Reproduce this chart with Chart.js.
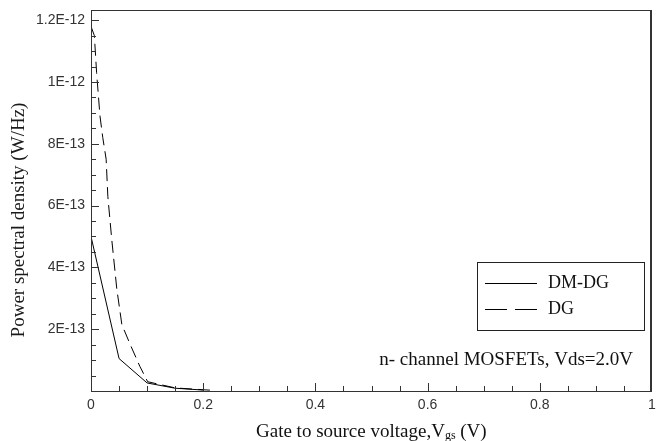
<!DOCTYPE html>
<html>
<head>
<meta charset="utf-8">
<script src="https://cdn.jsdelivr.net/npm/chart.js@4.4.1/dist/chart.umd.min.js"></script>
<style>
  html, body { margin: 0; padding: 0; background: #fff; }
  #wrap { width: 658px; height: 441px; }
</style>
</head>
<body>
<div id="wrap"><canvas id="myChart" width="658" height="441"></canvas></div>
<script>
// gate voltage (V) and noise power spectral density (W/Hz)
var vgsDmdg = [0, 0.05, 0.1, 0.15, 0.2];
var psdDmdg = [5.0e-13, 1.05e-13, 2.6e-14, 9e-15, 3e-15];

var vgsDg = [0, 0.006, 0.01, 0.016, 0.021, 0.027, 0.03, 0.037, 0.046, 0.055, 0.07, 0.087, 0.101, 0.15, 0.2, 0.22];
var psdDg = [1.18e-12, 1.15e-12, 1.03e-12, 0.89e-12, 0.82e-12, 0.75e-12, 0.63e-12, 0.49e-12, 0.33e-12, 0.215e-12, 0.15e-12, 0.08e-12, 0.03e-12, 0.01e-12, 0.004e-12, 0.002e-12];

var seriesNames = ['DM-DG', 'DG'];
var xTicks = [0, 0.2, 0.4, 0.6, 0.8, 1];
var yTicks = [2e-13, 4e-13, 6e-13, 8e-13, 1e-12, 1.2e-12];
var note = 'n- channel MOSFETs, Vds=2.0V';

function pts(xs, ys) {
  var out = [];
  for (var i = 0; i < xs.length; i++) out.push({x: xs[i], y: ys[i]});
  return out;
}

var serif = '"Liberation Serif", "Times New Roman", serif';

// frame, inward ticks, legend box, titles
var decor = {
  id: 'decor',
  afterDraw: function (chart) {
    var c = chart.ctx, a = chart.chartArea;
    var xs = chart.scales.x, ys = chart.scales.y;
    var L = Math.round(a.left), R = Math.round(a.right), T = Math.round(a.top), B = Math.round(a.bottom);
    c.save();
    c.setLineDash([]);
    c.fillStyle = '#333';
    c.fillRect(L, T, R - L, 1);          // top
    c.fillRect(L, B, R - L, 1);          // bottom
    c.fillRect(L, T, 1, B - T + 1);      // left
    c.fillRect(R - 2, T, 2, B - T + 1);  // right

    // x ticks every 0.05, major every 0.2
    for (var i = 0; i <= 20; i++) {
      var px = Math.round(xs.getPixelForValue(i * 0.05));
      var len = (i % 4 === 0) ? 8 : 5;
      c.fillRect(Math.min(px, R - 2), B - len, 1, len);
    }
    // y ticks every 0.5E-13, major every 2E-13
    for (var j = 0; j <= 24; j++) {
      var py = Math.round(ys.getPixelForValue(j * 0.5e-13));
      if (py < T) break;
      var l2 = (j % 4 === 0) ? 8 : 5;
      c.fillRect(L, py, l2, 1);
    }

    // legend
    c.fillStyle = '#222';
    c.fillRect(477, 262, 168, 1);
    c.fillRect(477, 330, 168, 1);
    c.fillRect(477, 262, 1, 69);
    c.fillRect(644, 262, 1, 69);
    c.font = '18px ' + serif;
    c.fillStyle = '#111';
    c.textBaseline = 'middle';
    var rows = [283, 309];
    chart.data.datasets.forEach(function (ds, k) {
      c.beginPath();
      c.lineWidth = 1;
      c.setLineDash(k === 0 ? [] : [22, 8]);
      c.strokeStyle = '#000';
      c.moveTo(485, rows[k] + 0.5); c.lineTo(537, rows[k] + 0.5);
      c.stroke();
      c.setLineDash([]);
      c.fillText(ds.label, 548, rows[k]);
    });

    // note
    c.font = '19px ' + serif;
    c.textAlign = 'right';
    c.textBaseline = 'alphabetic';
    c.fillText(note, 633, 365);

    // x title with subscript
    c.textAlign = 'left';
    var t1 = 'Gate to source voltage,V', t2 = 'gs', t3 = ' (V)';
    var x0 = 256, base = 437;
    c.font = '19px ' + serif;
    c.fillText(t1, x0, base);
    var w1 = c.measureText(t1).width;
    c.font = '12px ' + serif;
    c.fillText(t2, x0 + w1, base + 2);
    var w2 = c.measureText(t2).width;
    c.font = '19px ' + serif;
    c.fillText(t3, x0 + w1 + w2, base);

    // y title
    c.translate(19, 220);
    c.rotate(-Math.PI / 2);
    c.textAlign = 'center';
    c.textBaseline = 'middle';
    c.fillStyle = '#1a1a1a';
    c.fillText('Power spectral density (W/Hz)', 0, 0);
    c.restore();
  }
};

function yLabel(v) {
  for (var i = 0; i < yTicks.length; i++) {
    if (Math.abs(v - yTicks[i]) < 1e-16) {
      return Number(yTicks[i].toPrecision(3)).toExponential().toUpperCase();
    }
  }
  return '';
}

function noPad(s) {
  s.paddingLeft = 0; s.paddingRight = 0; s.paddingTop = 0; s.paddingBottom = 0;
}

var ctx = document.getElementById('myChart').getContext('2d');
var myChart = new Chart(ctx, {
  type: 'line',
  data: {
    datasets: [{
      label: seriesNames[0],
      data: pts(vgsDmdg, psdDmdg),
      borderColor: '#000',
      borderWidth: 1,
      pointRadius: 0,
      tension: 0
    }, {
      label: seriesNames[1],
      data: pts(vgsDg, psdDg),
      borderColor: '#000',
      borderWidth: 1,
      borderDash: [12, 6],
      pointRadius: 0,
      tension: 0
    }]
  },
  options: {
    responsive: false,
    animation: false,
    layout: { padding: { top: 10, right: 6, left: 0, bottom: 0 } },
    plugins: { legend: { display: false }, tooltip: { enabled: false } },
    scales: {
      x: {
        type: 'linear',
        min: 0,
        max: 1,
        grid: { display: false, drawTicks: false },
        border: { display: false },
        afterBuildTicks: function (s) { s.ticks = xTicks.map(function (v) { return {value: v}; }); },
        ticks: {
          padding: 6,
          maxRotation: 0,
          autoSkip: false,
          color: '#333',
          font: { family: '"Liberation Sans", Arial, sans-serif', size: 14 },
          callback: function (v) { return String(Number(v.toFixed(2))); }
        },
        afterFit: function (s) { s.height = 50; noPad(s); }
      },
      y: {
        type: 'linear',
        min: 0,
        max: 1.233e-12,
        grid: { display: false, drawTicks: false },
        border: { display: false },
        afterBuildTicks: function (s) { s.ticks = yTicks.map(function (v) { return {value: v}; }); },
        ticks: {
          padding: 6,
          autoSkip: false,
          color: '#333',
          font: { family: '"Liberation Sans", Arial, sans-serif', size: 14 },
          callback: function (v) { return yLabel(v); }
        },
        afterFit: function (s) { s.width = 91; noPad(s); }
      }
    }
  },
  plugins: [decor]
});
</script>
</body>
</html>
